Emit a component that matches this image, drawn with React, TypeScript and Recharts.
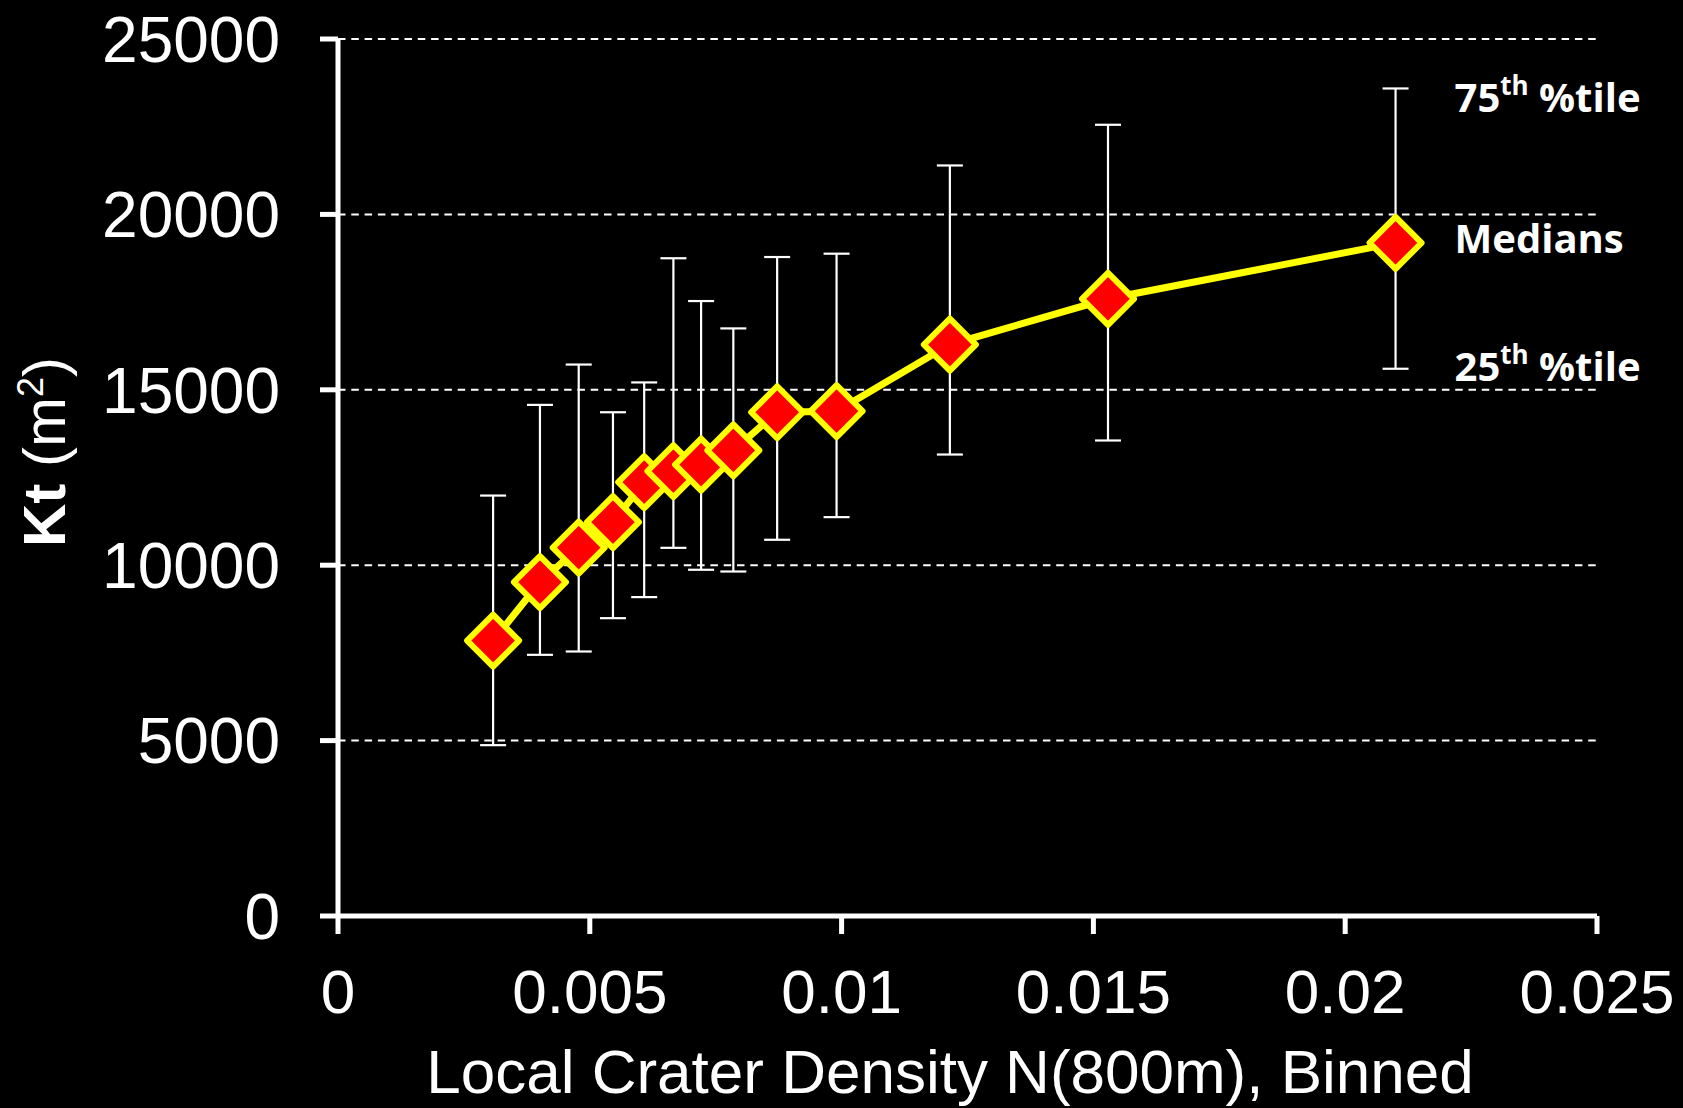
import { CartesianGrid, ErrorBar, ReferenceDot, Scatter, ScatterChart, XAxis, YAxis } from "recharts";

// binned local crater density N(800m)
const density = [0.00308, 0.00401, 0.00478, 0.00546, 0.00608, 0.00666, 0.00721, 0.00785, 0.00872, 0.0099, 0.01215, 0.01529, 0.021];
const medianKt = [7850, 9515, 10500, 11225, 12365, 12680, 12870, 13270, 14360, 14390, 16290, 17595, 19190];
const p25Kt = [4870, 7445, 7540, 8490, 9090, 10495, 9870, 9820, 10725, 11370, 13155, 13555, 15600];
const p75Kt = [11985, 14570, 15720, 14360, 15210, 18750, 17530, 16750, 18785, 18880, 21395, 22555, 23590];

const xTicks = [0, 0.005, 0.01, 0.015, 0.02, 0.025];
const yTicks = [0, 5000, 10000, 15000, 20000, 25000];

const data = density.map((x, i) => ({
  x,
  y: medianKt[i],
  err: [medianKt[i] - p25Kt[i], p75Kt[i] - medianKt[i]],
}));

const last = data.length - 1;

const annotations = [
  { y: p75Kt[last], main: "75", sup: "th", rest: " %tile", dy: 24 },
  { y: medianKt[last], main: "Medians", sup: "", rest: "", dy: 10 },
  { y: p25Kt[last], main: "25", sup: "th", rest: " %tile", dy: 12 },
];

const AXIS_FONT = "'Liberation Sans', Arial, sans-serif";

function Diamond(props: any) {
  const { cx, cy } = props;
  if (cx == null || cy == null) return null;
  const r = 26;
  return (
    <polygon
      points={`${cx},${cy - r} ${cx + r},${cy} ${cx},${cy + r} ${cx - r},${cy}`}
      fill="#ff0000"
      stroke="#ffff00"
      strokeWidth={6}
      strokeLinejoin="round"
    />
  );
}

function annotationLabel(a: (typeof annotations)[number]) {
  return (props: any) => {
    const vb = props.viewBox || {};
    const x = (vb.x ?? 0) + (vb.width ?? 0) / 2 + 59;
    const y = (vb.y ?? 0) + (vb.height ?? 0) / 2 + a.dy;
    return (
      <text x={x} y={y} fill="#ffffff" fontFamily="'Open Sans', sans-serif" fontWeight="bold" fontSize={40}>
        <tspan>{a.main}</tspan>
        {a.sup ? (
          <tspan dy={-17} fontSize={26}>
            {a.sup}
          </tspan>
        ) : null}
        {a.rest ? <tspan dy={17}>{a.rest}</tspan> : null}
      </text>
    );
  };
}

function YTitle() {
  return (
    <text
      x={65}
      y={452}
      transform="rotate(-90, 65, 452)"
      textAnchor="middle"
      fill="#ffffff"
      fontFamily={AXIS_FONT}
      fontSize={60}
    >
      <tspan fontWeight="bold">Kt</tspan>
      <tspan> (m</tspan>
      <tspan dy={-22} fontSize={36}>
        2
      </tspan>
      <tspan dy={22}>)</tspan>
    </text>
  );
}

function XTitle() {
  return (
    <text x={950} y={1093} textAnchor="middle" fill="#ffffff" fontFamily={AXIS_FONT} fontSize={62}>
      Local Crater Density N(800m), Binned
    </text>
  );
}

export default function App() {
  return (
    <div style={{ position: "absolute", left: 0, top: 0, width: 1683, height: 1108, background: "#000000" }}>
      <ScatterChart width={1683} height={1108} margin={{ top: 39, right: 86, bottom: 0, left: 0 }}>
        <CartesianGrid vertical={false} stroke="#ffffff" strokeWidth={2} strokeDasharray="7.5 5.8" />
        <XAxis
          type="number"
          dataKey="x"
          domain={[0, 0.025]}
          ticks={xTicks}
          interval={0}
          height={192}
          axisLine={{ stroke: "#ffffff", strokeWidth: 5 }}
          tickLine={{ stroke: "#ffffff", strokeWidth: 5 }}
          tickSize={18}
          tickMargin={35}
          tick={{ fill: "#ffffff", fontSize: 62, fontFamily: AXIS_FONT }}
          label={{ content: () => <XTitle /> }}
        />
        <YAxis
          type="number"
          dataKey="y"
          domain={[0, 25000]}
          ticks={yTicks}
          interval={0}
          width={338}
          axisLine={{ stroke: "#ffffff", strokeWidth: 5 }}
          tickLine={{ stroke: "#ffffff", strokeWidth: 5 }}
          tickSize={18}
          tickMargin={40}
          tick={{ fill: "#ffffff", fontSize: 64, fontFamily: AXIS_FONT }}
          label={{ content: () => <YTitle /> }}
        />
        <Scatter data={data} isAnimationActive={false} shape={() => <g />}>
          <ErrorBar dataKey="err" direction="y" width={13} stroke="#ffffff" strokeWidth={2.2} isAnimationActive={false} />
        </Scatter>
        <Scatter
          data={data}
          isAnimationActive={false}
          line={{ stroke: "#ffff00", strokeWidth: 7 }}
          shape={Diamond}
        />
        {annotations.map((a) => (
          <ReferenceDot
            key={a.main}
            x={density[last]}
            y={a.y}
            r={0}
            fill="none"
            stroke="none"
            label={{ content: annotationLabel(a) }}
          />
        ))}
      </ScatterChart>
    </div>
  );
}
